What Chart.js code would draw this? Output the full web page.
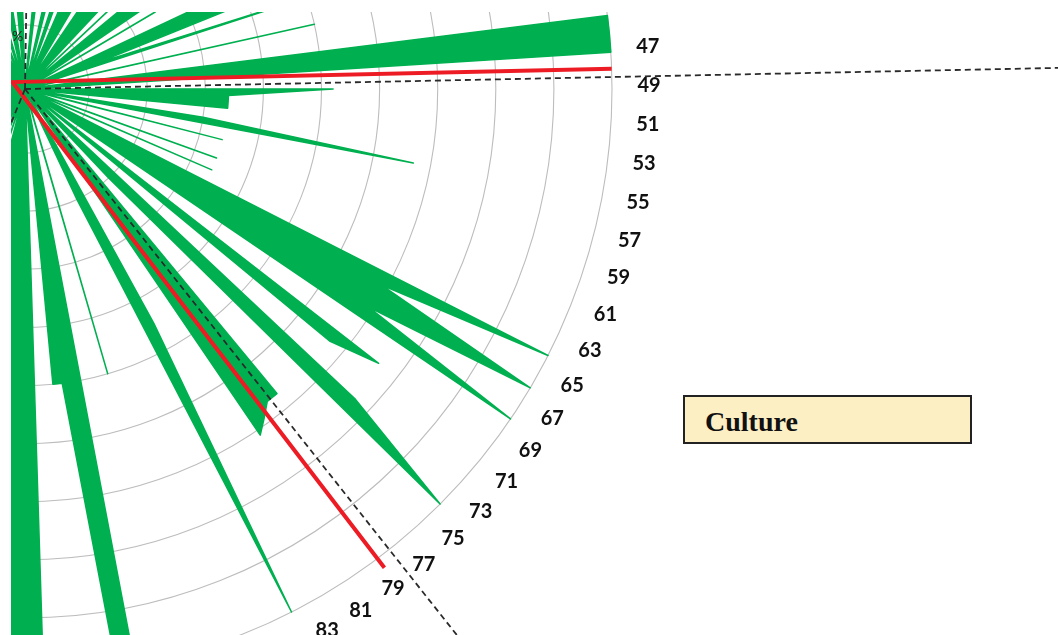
<!DOCTYPE html>
<html>
<head>
<meta charset="utf-8">
<script src="https://cdn.jsdelivr.net/npm/chart.js@4.4.1/dist/chart.umd.min.js"></script>
<style>
  html, body { margin: 0; padding: 0; background: #ffffff; }
  body { width: 1058px; height: 635px; position: relative; overflow: hidden; }
  #clip { position: absolute; left: 11px; top: 12px; width: 1047px; height: 623px; overflow: hidden; }
  #radar { position: absolute; left: -1086px; top: -1023.5px; }
  #pct { position: absolute; left: 12px; top: 27px; font: 14px Lato, sans-serif; color: #222; }
  #box { position: absolute; left: 683px; top: 395px; width: 289px; height: 49px; box-sizing: border-box;
         background: #FDEFC4; border: 2px solid #222; display: flex; align-items: center;
         padding: 4px 0 0 20px; font: bold 28px "Liberation Serif", "Times New Roman", serif; color: #111; }
</style>
</head>
<body>
<div id="clip"><canvas id="radar" width="2200" height="2200"></canvas></div>
<div id="pct">%</div>
<div id="box">Culture</div>
<script>
// ---- data ----
const categories = [];
for (let i = 0; i < 200; i++) categories.push(String(i));

// share per category (green filled radar series), category 0 .. 199
const greenValues = [
  0, 0, 45, 45, 0, 0, 50, 50, 0, 50,
  50, 0, 45, 50, 50, 50, 45, 0, 35, 50,
  50, 50, 50, 50, 0, 40, 0, 55, 55, 55,
  55, 0, 25, 0, 0, 70, 70, 70, 12, 55,
  0, 0, 50, 0, 0, 100, 100, 100, 0, 52,
  34, 34, 34, 0, 30, 67, 0, 34, 0, 0,
  34, 0, 34, 0, 100, 69, 100, 69, 100, 0,
  76, 67, 0, 77, 100, 20, 0, 67, 67, 69,
  71, 0, 0, 45, 100, 20, 0, 0, 0, 0,
  50, 0, 0, 100, 100, 50, 50, 0, 100, 100,
  100, 100, 100, 100, 60, 55, 55, 50, 0, 40,
  0, 25, 30, 0, 35, 35, 0, 20, 40, 0,
  30, 30, 0, 25, 0, 35, 20, 0, 30, 30,
  0, 25, 40, 0, 20, 35, 0, 30, 0, 40,
  25, 0, 30, 35, 0, 20, 30, 0, 35, 40,
  0, 25, 30, 0, 35, 20, 0, 40, 30, 0,
  25, 35, 0, 30, 40, 0, 20, 35, 0, 30,
  45, 0, 40, 25, 0, 35, 40, 0, 30, 45,
  0, 40, 35, 0, 30, 0, 40, 40, 0, 45,
  45, 0, 50, 50, 40, 0, 45, 50, 50, 0
];

// red marker line: positions (category units) and values
const redAt = [47.9, 165, 78.5];
const redValues = [100, 1.45, 102];

// dashed sector dividers (category units) and their reach (value units)
const dividerAt = [-0.5, 48.35, 77.7, 111.4];
const dividerReach = 200;

// radial axis
const axisMin = -1.033;
const axisMax = 100;
const axisStep = 10;

// ---- layout constants ----
const RADIUS = 587;
const LABEL_GAP = 34;
const LABEL_TOP_LIMIT = 68;

const overlay = {
  id: 'overlay',
  afterDatasetsDraw(chart) {
    const s = chart.scales.r;
    const ctx = chart.ctx;
    ctx.save();
    // red line
    ctx.strokeStyle = '#ED1C24';
    ctx.lineWidth = 4;
    ctx.lineJoin = 'miter';
    ctx.beginPath();
    redAt.forEach((k, n) => {
      const p = s.getPointPosition(k, s.getDistanceFromCenterForValue(redValues[n]));
      if (n === 0) ctx.moveTo(p.x, p.y); else ctx.lineTo(p.x, p.y);
    });
    ctx.stroke();
    // dashed dividers
    ctx.setLineDash([6, 4]);
    ctx.strokeStyle = '#2a2a2a';
    ctx.lineWidth = 1.8;
    dividerAt.forEach(k => {
      const c = s.getPointPosition(k, 0);
      const p = s.getPointPosition(k, s.getDistanceFromCenterForValue(dividerReach));
      ctx.beginPath();
      ctx.moveTo(c.x, c.y);
      ctx.lineTo(p.x, p.y);
      ctx.stroke();
    });
    ctx.setLineDash([]);
    // category labels (odd numbers)
    ctx.font = '700 20px Lato';
    ctx.fillStyle = '#111111';
    ctx.textAlign = 'center';
    ctx.textBaseline = 'middle';
    categories.forEach((lab, j) => {
      if (Number(lab) % 2 !== 1) return;
      const p = s.getPointPosition(j, s.drawingArea + LABEL_GAP);
      if (s.yCenter - p.y > LABEL_TOP_LIMIT) return;
      ctx.fillText(lab, p.x + 3, p.y - 3);
    });
    ctx.restore();
  }
};

new Chart(document.getElementById('radar'), {
  type: 'radar',
  data: {
    labels: categories,
    datasets: [{
      label: 'Culture',
      data: greenValues,
      backgroundColor: '#00B050',
      borderColor: '#00B050',
      borderWidth: 1.5,
      borderJoinStyle: 'round',
      fill: 'start',
      pointRadius: 0,
      pointHoverRadius: 0,
      tension: 0
    }]
  },
  options: {
    responsive: false,
    devicePixelRatio: 1,
    animation: false,
    events: [],
    plugins: { legend: { display: false }, tooltip: { enabled: false } },
    scales: {
      r: {
        min: axisMin,
        max: axisMax,
        startAngle: 1.8,
        ticks: { display: false, stepSize: axisStep },
        grid: { circular: true, color: '#bdbdbd', lineWidth: 1.1 },
        angleLines: { display: false },
        pointLabels: { display: false },
        afterFit: (scale) => { scale.drawingArea = RADIUS; }
      }
    }
  },
  plugins: [overlay]
});
</script>
</body>
</html>
